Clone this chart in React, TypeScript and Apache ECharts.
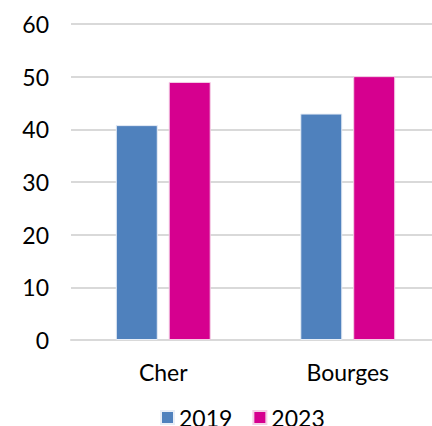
import React, { useEffect, useRef } from "react";
import * as echarts from "echarts";

const categories = ["Cher", "Bourges"];
const series2019 = [40.8, 43.0];
const series2023 = [49.0, 50.1];
const seriesNames = ["2019", "2023"];

export default function App() {
  const ref = useRef<HTMLDivElement>(null);
  useEffect(() => {
    const chart = echarts.init(ref.current!, undefined, { renderer: "svg" });
    chart.setOption({
      animation: false,
      textStyle: { fontFamily: "Lato" },
      grid: { left: 71, right: 0, top: 24, bottom: 86, containLabel: false },
      legend: {
        bottom: -8,
        left: 155,
        itemWidth: 13,
        itemHeight: 13,
        itemGap: 20,
        icon: "rect",
        textStyle: { fontSize: 23, color: "#000", fontFamily: "Lato" },
        data: seriesNames,
      },
      xAxis: {
        type: "category",
        data: categories,
        axisLine: { lineStyle: { color: "#d9d9d9", width: 2 } },
        axisTick: { show: false },
        axisLabel: { fontSize: 23, color: "#000", margin: 20, fontFamily: "Lato" },
      },
      yAxis: {
        type: "value",
        min: 0,
        max: 60,
        interval: 10,
        axisLine: { show: false },
        axisTick: { show: false },
        axisLabel: { fontSize: 23, color: "#000", margin: 22, fontFamily: "Lato" },
        splitLine: { lineStyle: { color: "#d9d9d9", width: 2 } },
      },
      series: [
        {
          name: seriesNames[0],
          type: "bar",
          data: series2019,
          barWidth: 42,
          barGap: "26%",
          itemStyle: { color: "#4F81BD", borderColor: "#e8eef7", borderWidth: 1 },
        },
        {
          name: seriesNames[1],
          type: "bar",
          data: series2023,
          barWidth: 42,
          itemStyle: { color: "#D6008F", borderColor: "#f4d0e6", borderWidth: 1 },
        },
      ],
    });
    return () => chart.dispose();
  }, []);
  return (
    <div style={{ width: 432, height: 426, position: "absolute", left: 0, top: 0, overflow: "hidden" }}>
      <div ref={ref} style={{ width: 440, height: 426 }} />
    </div>
  );
}
